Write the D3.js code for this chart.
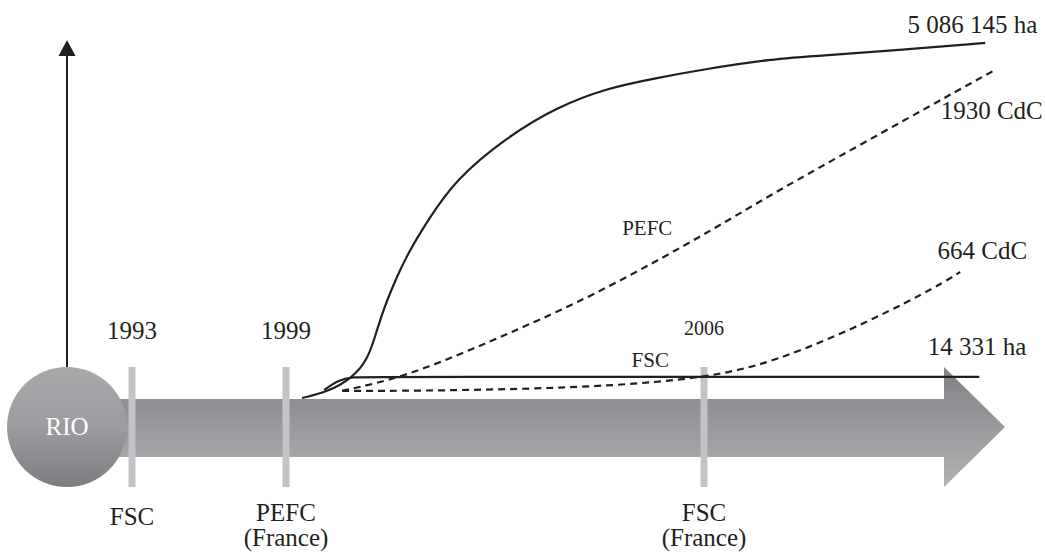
<!DOCTYPE html>
<html>
<head>
<meta charset="utf-8">
<script src="https://cdn.jsdelivr.net/npm/d3@7"></script>
<style>
  body { margin: 0; background: #fff; }
  svg text { font-family: "Liberation Serif", "Times New Roman", serif; fill: #231f20; }
</style>
</head>
<body>
<div id="chart"></div>
<script>
// timeline milestones
const milestoneYears = [1993, 1999, 2006];
const milestoneTop = ["1993", "1999", "2006"];
const milestoneBottom = [["FSC"], ["PEFC", "(France)"], ["FSC", "(France)"]];

// curves : year on the timeline, relative level (0 = top of the band, 100 = top of the axis)
const pefcAreaYears = [1999.27, 1999.70, 2000.11, 2000.36, 2000.49, 2000.61, 2000.78, 2001.04, 2001.38, 2001.83, 2002.70, 2003.54, 2004.38, 2005.21, 2005.93, 2007.11, 2008.11, 2009.28, 2010.71];
const pefcAreaValues = [0, 1.7, 5.6, 10.6, 17.0, 23.7, 31.0, 40.5, 49.7, 60.9, 72.9, 81.3, 86.6, 89.4, 91.6, 94.7, 95.8, 97.2, 99.2];

const fscAreaYears = [1999.64, 1999.87, 2000.12, 2000.44, 2010.61];
const fscAreaValues = [2.2, 5.0, 5.9, 5.9, 5.9];

const pefcCdcYears = [1999.94, 2000.99, 2002.17, 2002.97, 2004.09, 2005.77, 2007.06, 2008.16, 2009.84, 2010.87];
const pefcCdcValues = [2.0, 5.9, 14.0, 19.8, 28.2, 43.3, 56.2, 66.5, 82.1, 91.6];

const fscCdcYears = [1999.94, 2001.24, 2002.92, 2004.48, 2006.00, 2007.16, 2008.83, 2009.95, 2010.29];
const fscCdcValues = [2.0, 2.0, 2.5, 3.4, 5.6, 9.8, 21.8, 31.6, 35.2];

const endLabels = ["5 086 145 ha", "14 331 ha", "1930 CdC", "664 CdC"];

const width = 1045, height = 554;

const svg = d3.select("#chart")
  .append("svg")
  .attr("width", width)
  .attr("height", height);

// the timeline is schematic: each period gets its own stretch
const x = d3.scaleLinear()
  .domain(milestoneYears)
  .range([132, 286, 704]);

const y = d3.scaleLinear()
  .domain([0, 100])
  .range([398, 40]);

const defs = svg.append("defs");
const bandGrad = defs.append("linearGradient")
  .attr("id", "bandGrad")
  .attr("gradientUnits", "userSpaceOnUse")
  .attr("x1", 0).attr("y1", 367).attr("x2", 0).attr("y2", 487);
bandGrad.append("stop").attr("offset", "0%").attr("stop-color", "#828286");
bandGrad.append("stop").attr("offset", "100%").attr("stop-color", "#b2b2b5");

const circGrad = defs.append("linearGradient")
  .attr("id", "circGrad")
  .attr("x1", 0).attr("y1", 0).attr("x2", 0).attr("y2", 1);
circGrad.append("stop").attr("offset", "0%").attr("stop-color", "#a9a9ac");
circGrad.append("stop").attr("offset", "50%").attr("stop-color", "#9c9ca0");
circGrad.append("stop").attr("offset", "100%").attr("stop-color", "#7d7d81");

// big arrow of time
const bandTop = 399, bandBottom = 457, headX = 944, tipX = 1005, midY = 427;
svg.append("path")
  .attr("d", `M67,${bandTop} H${headX} V367 L${tipX},${midY} L${headX},487 V${bandBottom} H67 Z`)
  .style("fill", "url(#bandGrad)");

// milestone markers
svg.selectAll(".marker")
  .data(milestoneYears)
  .enter()
  .append("rect")
  .attr("class", "marker")
  .attr("x", d => x(d) - 3.5)
  .attr("y", 367)
  .attr("width", 7)
  .attr("height", 120)
  .style("fill", "#c3c3c7");

// vertical axis with arrow head
svg.append("line")
  .attr("x1", 67).attr("x2", 67)
  .attr("y1", 368).attr("y2", 54)
  .style("stroke", "#231f20")
  .style("stroke-width", 2);
svg.append("path")
  .attr("d", "M67,40 L58.5,56 L75.5,56 Z")
  .style("fill", "#231f20");

// RIO
svg.append("circle")
  .attr("cx", 67).attr("cy", midY).attr("r", 60)
  .style("fill", "url(#circGrad)");
svg.append("text")
  .attr("x", 67).attr("y", 435)
  .attr("text-anchor", "middle")
  .attr("font-size", 25)
  .style("fill", "#fff")
  .text("RIO");

// milestone labels
svg.selectAll(".topLabel")
  .data(milestoneYears)
  .enter()
  .append("text")
  .attr("class", "topLabel")
  .attr("x", d => x(d))
  .attr("y", (d, i) => i === 2 ? 335 : 339)
  .attr("text-anchor", "middle")
  .attr("font-size", (d, i) => i === 2 ? 20 : 25)
  .text((d, i) => milestoneTop[i]);

const bottom = svg.selectAll(".bottomLabel")
  .data(milestoneYears)
  .enter()
  .append("text")
  .attr("class", "bottomLabel")
  .attr("text-anchor", "middle")
  .attr("font-size", 25);
bottom.selectAll("tspan")
  .data((d, i) => milestoneBottom[i].map(t => ({year: d, text: t})))
  .enter()
  .append("tspan")
  .attr("x", d => x(d.year))
  .attr("y", (d, j, nodes) => nodes.length === 1 ? 525 : 521 + j * 25)
  .text(d => d.text);

// curves
const line = d3.line()
  .x(d => x(d[0]))
  .y(d => y(d[1]))
  .curve(d3.curveBasis);

const series = [
  {years: pefcAreaYears, values: pefcAreaValues, dash: null, label: endLabels[0], dx: 52, dy: -10},
  {years: fscAreaYears, values: fscAreaValues, dash: null, label: endLabels[1], dx: 47, dy: -22},
  {years: pefcCdcYears, values: pefcCdcValues, dash: "7,5", label: endLabels[2], dx: 48, dy: 49},
  {years: fscCdcYears, values: fscCdcValues, dash: "7,5", label: endLabels[3], dx: 67, dy: -13}
];

series.forEach(s => {
  const pts = s.years.map((yr, i) => [yr, s.values[i]]);
  svg.append("path")
    .attr("d", line(pts))
    .style("fill", "none")
    .style("stroke", "#231f20")
    .style("stroke-width", 2.2)
    .style("stroke-dasharray", s.dash);

  const last = pts[pts.length - 1];
  svg.append("text")
    .attr("x", x(last[0]) + s.dx)
    .attr("y", y(last[1]) + s.dy)
    .attr("text-anchor", "end")
    .attr("font-size", 25)
    .text(s.label);
});

// small series names
svg.append("text")
  .attr("x", x(2005.05)).attr("y", y(45.5))
  .attr("text-anchor", "middle")
  .attr("font-size", 21)
  .text("PEFC");
svg.append("text")
  .attr("x", x(2005.1)).attr("y", y(8.7))
  .attr("text-anchor", "middle")
  .attr("font-size", 21)
  .text("FSC");
</script>
</body>
</html>
